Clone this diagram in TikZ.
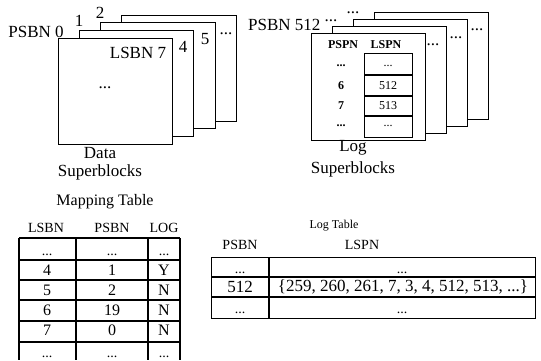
\documentclass[tikz,border=0pt]{standalone}
\usepackage{fontspec}
\setmainfont{Liberation Serif}
\usetikzlibrary{calc}
\newcommand{\mydots}{...}
\tikzset{sblock/.style={draw=black, fill=white, line width=0.9pt},
  big/.style={font=\fontsize{17}{19}\selectfont, inner sep=0pt},
  mid/.style={font=\fontsize{14}{16}\selectfont, inner sep=0pt},
  cell/.style={font=\fontsize{16}{18}\selectfont, inner sep=0pt},
  dotcell/.style={font=\fontsize{14}{16}\selectfont, inner sep=0pt, anchor=base},
  tiny/.style={font=\fontsize{12}{14}\selectfont\bfseries, inner sep=0pt},
  hline/.style={line width=1.1pt}, vline/.style={line width=1.7pt}}

\begin{document}
\begin{tikzpicture}[x=1pt,y=-1pt]
\useasboundingbox (0,0) rectangle (541,360);

% Data superblocks (back to front)
\foreach \i in {3,2,1,0}
  \draw[sblock] ({58+21.3*\i},{38-7.6*\i}) rectangle ++(114.5,106);
\node[big] (psbn0) at (36,32) {PSBN 0};
\node[big] (dnum1) at (79,21) {1};
\node[big] (dnum2) at (100,13) {2};
\node[big] (dnum4) at (183,47) {4};
\node[big] (dnum5) at (205,39) {5};
\node[big] (ddots) at (226,34) {\mydots};
\node[big] (lsbn7) at (138,53) {LSBN 7};
\node[big] (dinner) at (105,88) {\mydots};
\node[big] (datalbl) at (100,153) {Data};
\node[big] (datasup) at (100,172) {Superblocks};

% Log superblocks (back to front)
\foreach \i in {3,2,1,0}
  \draw[sblock] ({311+21.3*\i},{33-7*\i}) rectangle ++(114,107);
\node[big, anchor=west] (psbn512) at (248,25) {PSBN 512};
\node[big] (ldots0) at (331,21) {\mydots};
\node[big] (ldots1) at (353,13) {\mydots};
\node[big] (ldots2) at (433,45) {\mydots};
\node[big] (ldots3) at (456,38) {\mydots};
\node[big] (ldots4) at (477,30) {\mydots};
% page table inside the front log superblock
\node[tiny] (pspn) at (343,45) {PSPN};
\node[tiny] (lspn) at (386,45) {LSPN};
\draw[line width=0.9pt] (364,53) rectangle (412,137);
\foreach \y in {75,96,116}
  \draw[hline] (364,\y) -- (412,\y);
\foreach \p/\l [count=\r] in {\mydots/\mydots,6/512,7/513,\mydots/\mydots} {
  \node[tiny] (pg-\r) at (341,{46+20*\r}) {\p};
  \node[tiny, font=\fontsize{12}{14}\selectfont] (lg-\r) at (388,{46+20*\r}) {\l};
}
\node[big] (loglbl) at (353,148) {Log};
\node[big] (logsup) at (353,169) {Superblocks};

% Mapping table
\node[cell] (mtitle) at (105,202) {Mapping Table};
\node[mid] (mh1) at (46,228) {LSBN};
\node[mid] (mh2) at (112,228) {PSBN};
\node[mid] (mh3) at (164,228) {LOG};
\draw[hline] (19,238) -- (180,238);
\foreach \y in {260,280,300,321,342}
  \draw[hline] (19,\y) -- (180,\y);
\foreach \x in {19,76,148,180}
  \draw[vline] (\x,238) -- (\x,360);
\node[dotcell] (mt-0-1) at (47,255) {\mydots};
\node[dotcell] (mt-0-2) at (112,255) {\mydots};
\node[dotcell] (mt-0-3) at (164,255) {\mydots};
\foreach \l/\p/\g [count=\r] in {4/1/Y,5/2/N,6/19/N,7/0/N} {
  \node[cell] (mt-\r-1) at (47,{249.5+20.3*\r}) {\l};
  \node[cell] (mt-\r-2) at (112,{249.5+20.3*\r}) {\p};
  \node[cell] (mt-\r-3) at (164,{249.5+20.3*\r}) {\g};
}
\node[dotcell] (mt-5-1) at (47,357) {\mydots};
\node[dotcell] (mt-5-2) at (112,357) {\mydots};
\node[dotcell] (mt-5-3) at (164,357) {\mydots};

% Log table
\node[font=\fontsize{12}{14}\selectfont, inner sep=0pt] (ltitle) at (334,226) {Log Table};
\node[mid] (lh1) at (240,245) {PSBN};
\node[mid] (lh2) at (362,245) {LSPN};
\draw[line width=0.9pt] (211,257) rectangle (535,318);
\draw[hline] (211,277) -- (535,277);
\draw[hline] (211,297) -- (535,297);
\draw[vline] (269,257) -- (269,318);
\node[dotcell] (lt-1-1) at (240,273) {\mydots};
\node[dotcell] (lt-1-2) at (402,273) {\mydots};
\node[big] (lt-2-1) at (240,287) {512};
\node[big] (lt-2-2) at (403,287) {\{259, 260, 261, 7, 3, 4, 512, 513, \mydots\}};
\node[dotcell] (lt-3-1) at (240,313) {\mydots};
\node[dotcell] (lt-3-2) at (402,313) {\mydots};
\end{tikzpicture}
\end{document}
